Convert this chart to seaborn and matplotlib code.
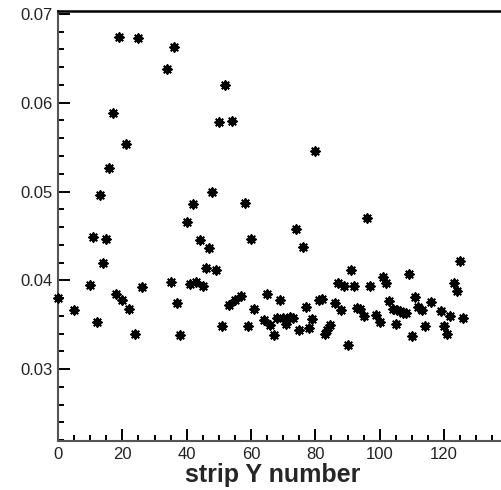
import matplotlib
matplotlib.use("Agg")
import matplotlib.pyplot as plt
import seaborn as sns
import pandas as pd
from matplotlib.ticker import MultipleLocator

strip = [0, 5, 10, 11, 12, 13, 14, 15, 16, 17, 18, 19, 20, 21, 22, 24, 25, 26,
         34, 35, 36, 37, 38, 40, 41, 42, 43, 44, 45, 46, 47, 48, 49, 50, 51, 52,
         53, 54, 55, 57, 58, 59, 60, 61, 64, 65, 66, 67, 68, 69, 70, 71, 72, 73,
         74, 75, 76, 77, 78, 79, 80, 81, 82, 83, 83.7, 84.5, 86, 87, 88, 89, 90,
         91, 92, 93, 94, 95, 96, 97, 99, 100, 101, 102, 103, 104, 105, 105.3,
         106.3, 107.3, 108.2, 109, 110, 111, 112, 113, 114, 116, 119, 120, 121,
         122, 123, 124, 125, 126]
value = [0.0380, 0.0366, 0.0395, 0.0449, 0.0353, 0.0496, 0.0419, 0.0447, 0.0527,
         0.0589, 0.0385, 0.0674, 0.0378, 0.0553, 0.0368, 0.0339, 0.0673, 0.0392,
         0.0638, 0.0398, 0.0663, 0.0374, 0.0338, 0.0466, 0.0396, 0.0486, 0.0398,
         0.0445, 0.0393, 0.0414, 0.0436, 0.0500, 0.0411, 0.0578, 0.0348, 0.0620,
         0.0372, 0.0579, 0.0378, 0.0382, 0.0487, 0.0348, 0.0446, 0.0368, 0.0355,
         0.0385, 0.0350, 0.0338, 0.0357, 0.0378, 0.0358, 0.0351, 0.0359, 0.0357,
         0.0458, 0.0344, 0.0438, 0.0370, 0.0346, 0.0356, 0.0546, 0.0378, 0.0379,
         0.0339, 0.0344, 0.0350, 0.0374, 0.0397, 0.0366, 0.0394, 0.0327, 0.0412,
         0.0394, 0.0369, 0.0368, 0.0360, 0.0470, 0.0394, 0.0361, 0.0353, 0.0404,
         0.0397, 0.0377, 0.0368, 0.0351, 0.0366, 0.0365, 0.0363, 0.0363, 0.0407,
         0.0337, 0.0381, 0.0370, 0.0367, 0.0348, 0.0376, 0.0365, 0.0348, 0.0339,
         0.0360, 0.0397, 0.0388, 0.0422, 0.0358]

xlabel = "strip Y number"

sns.set_style("ticks")
plt.rcParams["font.family"] = ["Liberation Sans", "DejaVu Sans"]

df = pd.DataFrame({"strip": strip, "value": value})

fig = plt.figure(figsize=(5.01, 4.90), dpi=100)
ax = fig.add_axes([58 / 501, 0.1, 443 / 501, (441 - 10.7) / 490])

sns.scatterplot(data=df, x="strip", y="value", ax=ax, marker=(8, 2, 0),
                color="black", s=38, linewidth=1.4, legend=False, clip_on=False,
                zorder=5)

ax.set_xlim(0, 137.7)
ax.set_ylim(0.02189, 0.07037)
ax.xaxis.set_major_locator(MultipleLocator(20))
ax.xaxis.set_minor_locator(MultipleLocator(5))
ax.yaxis.set_major_locator(MultipleLocator(0.01))
ax.yaxis.set_minor_locator(MultipleLocator(0.002))
ax.yaxis.set_major_formatter(matplotlib.ticker.FuncFormatter(lambda v, p: f"{v:.2f}"))

ax.tick_params(which="both", direction="in", colors="black", labelcolor="#222222",
               labelsize=12, width=1.4, top=False, right=False)
ax.tick_params(which="major", length=8.6, pad=4)
ax.tick_params(which="minor", length=4.3)

for side in ["left", "bottom"]:
    ax.spines[side].set_color("#555555")
    ax.spines[side].set_linewidth(1.5)
ax.spines["top"].set_color("black")
ax.spines["top"].set_linewidth(1.8)
ax.spines["right"].set_visible(False)

ax.set_xlabel(xlabel, fontsize=18, fontweight="bold")
ax.xaxis.set_label_coords((273 - 58) / 443, -0.052)
ax.set_ylabel("")

fig.savefig("out.png", dpi=100)
